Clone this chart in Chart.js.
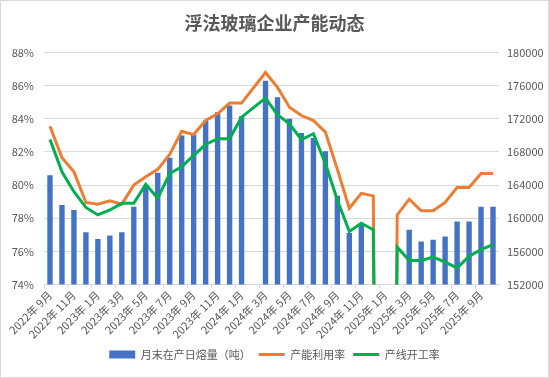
<!DOCTYPE html>
<html>
<head>
<meta charset="utf-8">
<script src="https://cdn.jsdelivr.net/npm/chart.js@4"></script>
<style>
    body { margin: 0; background: #fff; }
    #glassChart { display: block; outline: 1px solid #d9d9d9; outline-offset: -1px; }
</style>
</head>
<body>
<canvas id="glassChart" width="549" height="378"></canvas>
<script>
const months = [
    "2022年 9月", "2022年 10月", "2022年 11月", "2022年 12月",
    "2023年 1月", "2023年 2月", "2023年 3月", "2023年 4月", "2023年 5月", "2023年 6月",
    "2023年 7月", "2023年 8月", "2023年 9月", "2023年 10月", "2023年 11月", "2023年 12月",
    "2024年 1月", "2024年 2月", "2024年 3月", "2024年 4月", "2024年 5月", "2024年 6月",
    "2024年 7月", "2024年 8月", "2024年 9月", "2024年 10月", "2024年 11月", "2024年 12月",
    "2025年 1月", "2025年 2月", "2025年 3月", "2025年 4月", "2025年 5月", "2025年 6月",
    "2025年 7月", "2025年 8月", "2025年 9月", "2025年 10月"
];

// 月末在产日熔量（吨）
const dailyMelt = [
    165200, 161600, 161000, 158300, 157500, 157900, 158300, 161400, 163900, 165500,
    167300, 170000, 170100, 171800, 172800, 173600, 172300, null, 176600, 174600,
    172000, 170300, 169700, 168100, 162700, 158200, 159400, null, null, null,
    158600, 157200, 157400, 157800, 159600, 159600, 161400, 161400
];

// 产能利用率 (%)
const capacityUse = [
    83.55, 81.65, 80.8, 78.95, 78.85, 79.05, 78.85, 80.0, 80.5, 80.95,
    81.85, 83.25, 83.05, 83.9, 84.3, 84.95, 84.95, null, 86.8, 85.9,
    84.7, 84.2, 83.9, 83.2, 80.95, 78.6, 79.5, 79.35, 0, 78.2,
    79.15, 78.45, 78.45, 78.95, 79.85, 79.85, 80.7, 80.7
];

// 产线开工率 (%)
const lineRunRate = [
    82.75, 80.8, 79.6, 78.65, 78.2, 78.5, 78.9, 78.9, 80.05, 79.2,
    80.7, 81.1, 81.8, 82.45, 82.8, 82.8, 84.1, null, 85.25, 84.25,
    83.7, 82.75, 83.1, 81.3, 79.1, 77.2, 77.7, 77.3, 0, 76.25,
    75.45, 75.45, 75.65, 75.35, 75.0, 75.7, 76.1, 76.4
];

const leftTicks = [74, 76, 78, 80, 82, 84, 86, 88];
const rightTicks = [152000, 156000, 160000, 164000, 168000, 172000, 176000, 180000];

const textColor = '#595959';
const gridColor = '#d9d9d9';
const cjkFont = "'Noto Sans CJK SC', 'Microsoft YaHei', sans-serif";

document.addEventListener("DOMContentLoaded", function () {

    const ctx = document.getElementById('glassChart');

    new Chart(ctx, {
        data: {
            labels: months,
            datasets: [
                {
                    type: 'line',
                    label: '产能利用率',
                    data: capacityUse,
                    yAxisID: 'yLeft',
                    borderColor: '#ED7D31',
                    backgroundColor: '#ED7D31',
                    borderWidth: 3,
                    pointRadius: 0,
                    tension: 0,
                    spanGaps: true,
                    order: 2
                },
                {
                    type: 'line',
                    label: '产线开工率',
                    data: lineRunRate,
                    yAxisID: 'yLeft',
                    borderColor: '#00B050',
                    backgroundColor: '#00B050',
                    borderWidth: 3,
                    pointRadius: 0,
                    tension: 0,
                    spanGaps: true,
                    order: 1
                },
                {
                    type: 'bar',
                    label: '月末在产日熔量（吨）',
                    data: dailyMelt,
                    yAxisID: 'yRight',
                    backgroundColor: '#4472C4',
                    borderWidth: 0,
                    categoryPercentage: 1,
                    barPercentage: 0.45,
                    order: 3
                }
            ]
        },
        options: {
            responsive: false,
            animation: false,
            layout: { padding: { left: 0, right: 0, top: 0, bottom: 8 } },
            plugins: {
                title: {
                    display: true,
                    text: '浮法玻璃企业产能动态',
                    color: textColor,
                    font: { family: cjkFont, size: 18, weight: 'bold' },
                    padding: { top: 12, bottom: 19 }
                },
                legend: {
                    position: 'bottom',
                    reverse: true,
                    labels: {
                        color: textColor,
                        font: { family: cjkFont, size: 11 },
                        usePointStyle: true,
                        pointStyleWidth: 26,
                        boxHeight: 8,
                        padding: 8,
                        generateLabels: function (chart) {
                            const items = Chart.defaults.plugins.legend.labels.generateLabels(chart);
                            items.forEach(item => {
                                const ds = chart.data.datasets[item.datasetIndex];
                                item.pointStyle = ds.type === 'bar' ? 'rect' : 'line';
                                if (ds.type === 'line') item.lineWidth = 3;
                            });
                            return items;
                        }
                    }
                },
                tooltip: { enabled: false }
            },
            scales: {
                x: {
                    offset: true,
                    grid: {
                        offset: true,
                        drawOnChartArea: false,
                        tickLength: 4,
                        color: c => (c.index % 2 === 0 ? gridColor : 'rgba(0,0,0,0)')
                    },
                    border: { color: gridColor },
                    ticks: {
                        autoSkip: false,
                        minRotation: 45,
                        maxRotation: 45,
                        color: textColor,
                        font: { family: cjkFont, size: 11 },
                        padding: 0,
                        callback: function (value, index) {
                            return index % 2 === 0 ? this.getLabelForValue(value) : '';
                        }
                    }
                },
                yLeft: {
                    position: 'left',
                    min: 74,
                    max: 88,
                    afterBuildTicks: axis => { axis.ticks = leftTicks.map(v => ({ value: v })); },
                    afterFit: axis => { axis.width = 44; },
                    grid: { color: gridColor, drawTicks: false },
                    border: { display: false },
                    ticks: {
                        color: textColor,
                        font: { family: cjkFont, size: 11 },
                        padding: 10,
                        callback: v => v + '%'
                    }
                },
                yRight: {
                    position: 'right',
                    min: 152000,
                    max: 180000,
                    afterBuildTicks: axis => { axis.ticks = rightTicks.map(v => ({ value: v })); },
                    afterFit: axis => { axis.width = 50; },
                    grid: { display: false, drawTicks: false },
                    border: { display: false },
                    ticks: {
                        color: textColor,
                        font: { family: cjkFont, size: 11 },
                        padding: 8,
                        callback: v => String(v)
                    }
                }
            }
        }
    });

});
</script>
</body>
</html>
